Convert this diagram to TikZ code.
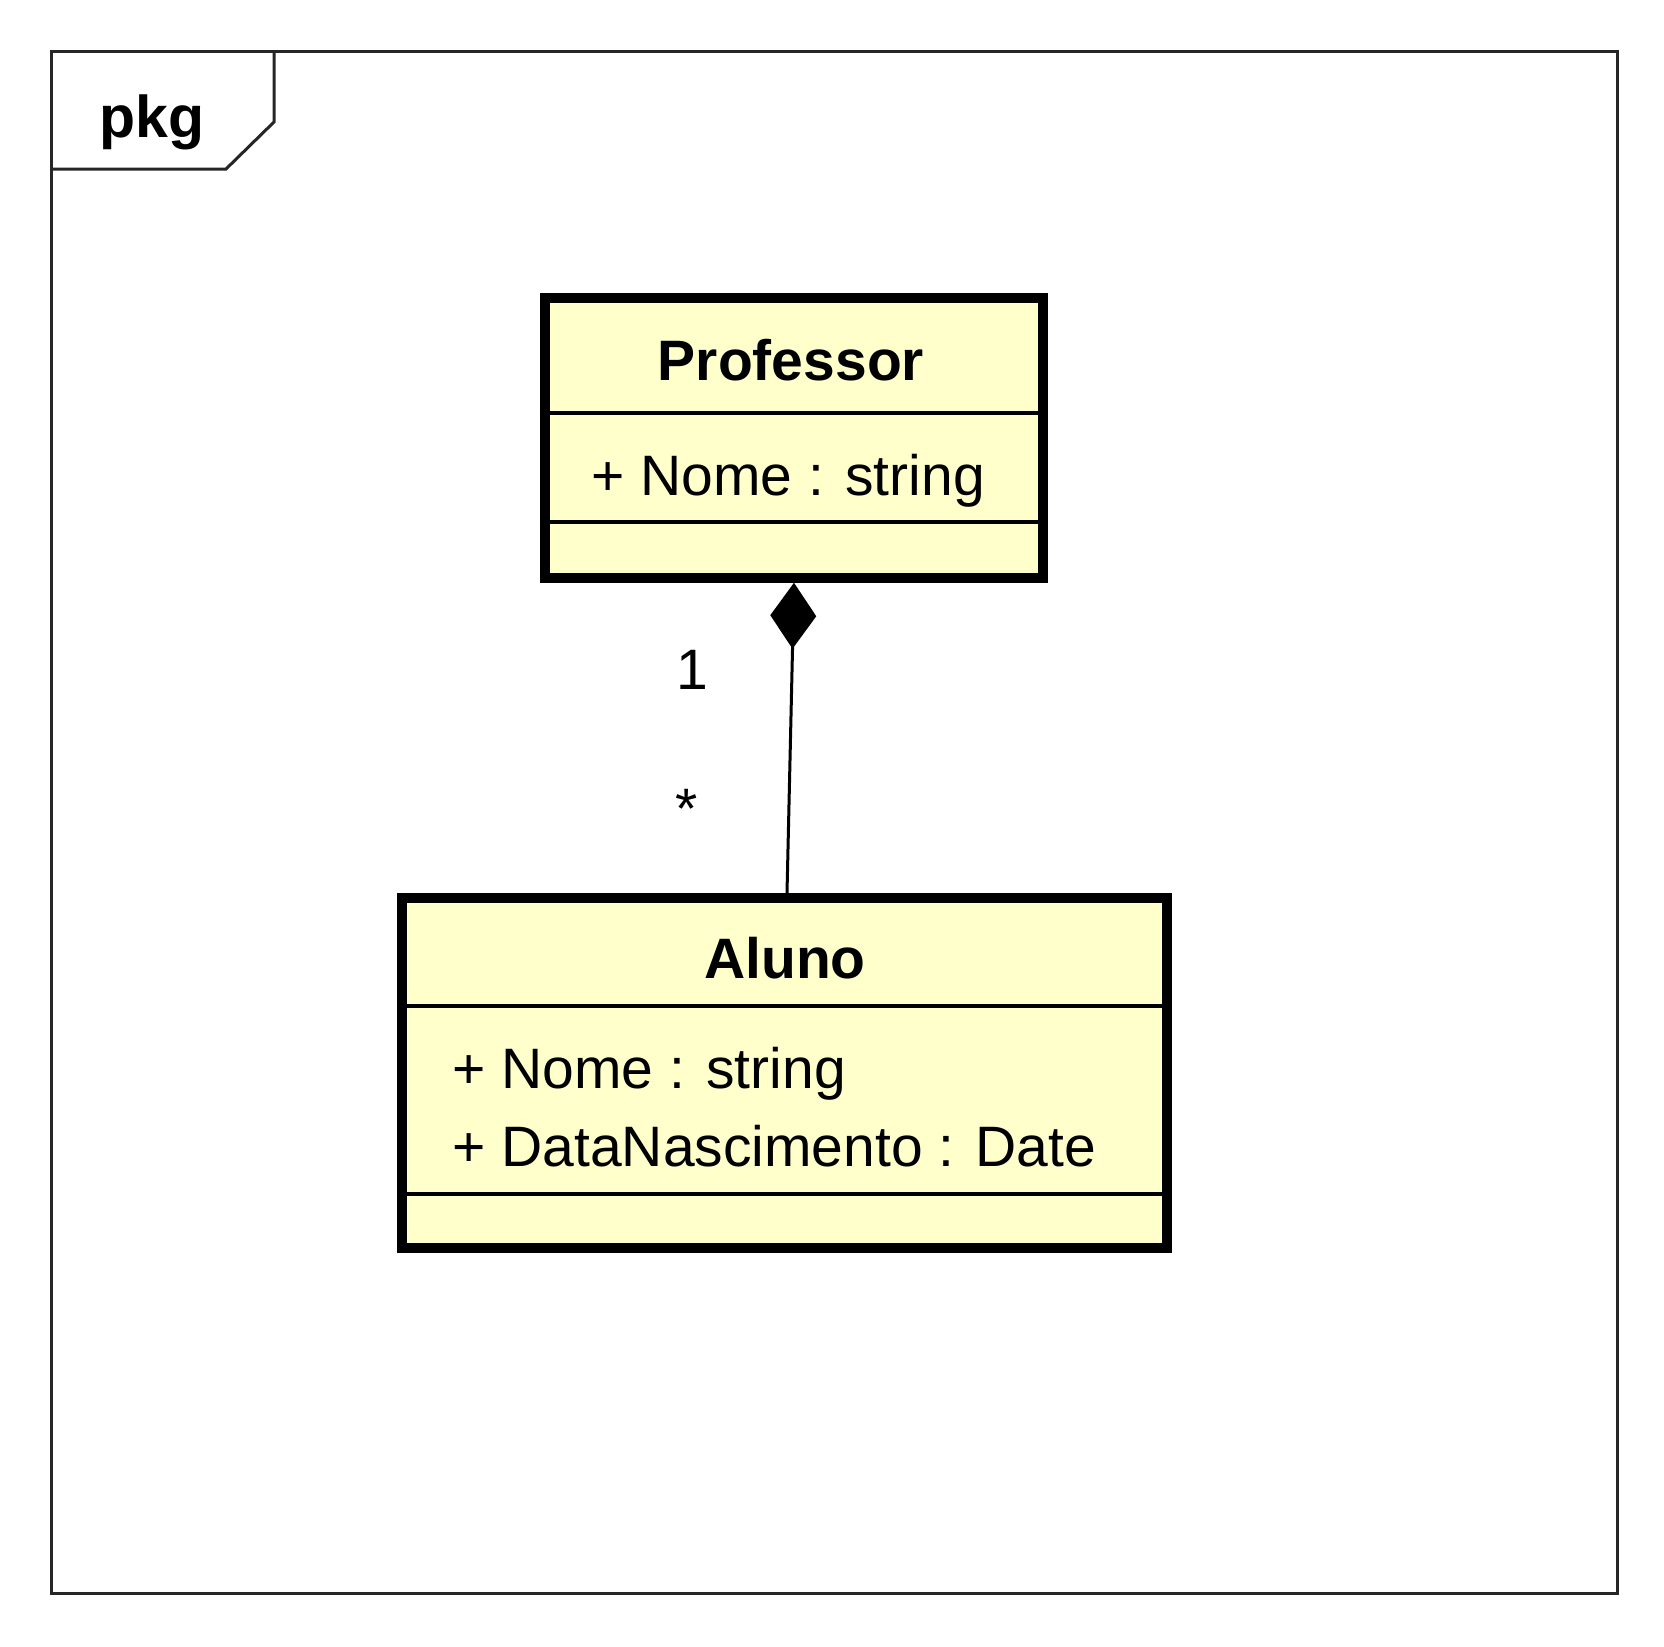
\documentclass[tikz,border=0pt]{standalone}
\usepackage{fontspec}
\setmainfont{Liberation Sans}
\usetikzlibrary{arrows.meta}
\definecolor{classfill}{RGB}{255,255,204}
\begin{document}
\begin{tikzpicture}[x=0.5pt,y=-0.5pt,
  frame/.style={draw=black!85, line width=1.5pt},
  classbox/.style={draw, fill=classfill, line width=5pt, inner sep=0pt},
  divider/.style={line width=2pt},
  title/.style={font=\fontsize{28.5}{34}\selectfont\bfseries, anchor=base, inner sep=0pt},
  attr/.style={font=\fontsize{28.5}{34}\selectfont, anchor=base west, inner sep=0pt},
  mult/.style={font=\fontsize{28.5}{34}\selectfont, anchor=base, inner sep=0pt},
  composition/.style={{Diamond[length=33pt,width=23pt]}-, line width=1.5pt}
]
\useasboundingbox (0,0) rectangle (1664,1646);

% package frame with its name tab
\draw[frame] (51,51) rectangle (1617,1593);
\draw[frame] (51,169) -- (226,169) -- (274,122) -- (274,51);
\node[title, font=\fontsize{29.5}{34}\selectfont\bfseries] (pkg) at (152,137) {pkg};

% class Professor
\node[classbox, minimum width=249.25pt, minimum height=139.75pt] (prof) at (794,438) {};
\draw[divider] (prof.west |- 0,413) -- (prof.east |- 0,413);
\draw[divider] (prof.west |- 0,522) -- (prof.east |- 0,522);
\node[title] (profname) at (791,380) {Professor};
\node[attr] (profattr) at (591,495) {+ Nome : string};

% class Aluno
\node[classbox, minimum width=382.5pt, minimum height=175pt] (aluno) at (784.5,1073) {};
\draw[divider] (aluno.west |- 0,1006) -- (aluno.east |- 0,1006);
\draw[divider] (aluno.west |- 0,1194) -- (aluno.east |- 0,1194);
\node[title] (alunoname) at (785,978) {Aluno};
\node[attr] (alunoattr1) at (452,1088) {+ Nome : string};
\node[attr] (alunoattr2) at (452,1166) {+ DataNascimento : Date};

% composition between the two classes
\draw[composition] (prof.south) -- ([xshift=1.25pt]aluno.north);
\node[mult] (multone) at (692,689) {1};
\node[mult] (multmany) at (687,828) {*};
\end{tikzpicture}
\end{document}
